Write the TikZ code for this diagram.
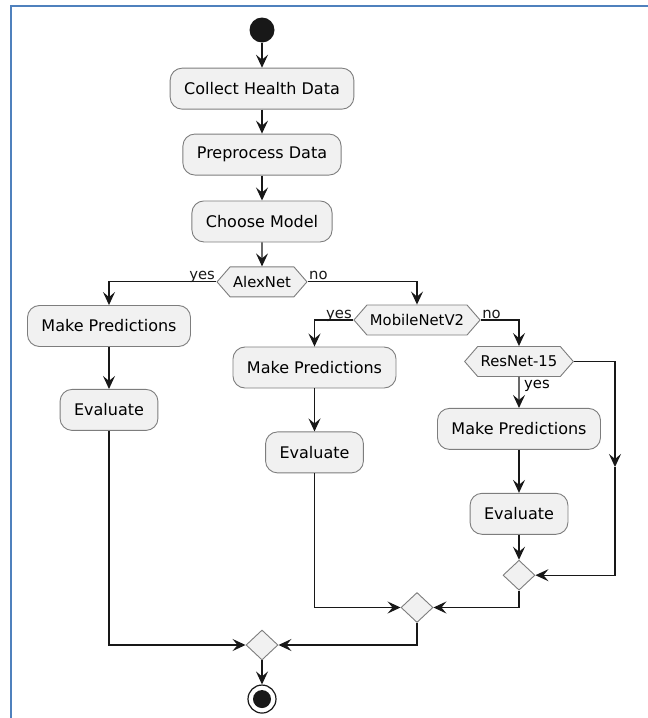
\documentclass[tikz,border=0pt]{standalone}
\usepackage{fontspec}
\setmainfont{DejaVu Sans}
\usetikzlibrary{arrows.meta, positioning, shapes.geometric, shapes.symbols}
\definecolor{umlline}{RGB}{24,24,24}
\definecolor{umlfill}{RGB}{241,241,241}
\definecolor{umledge}{RGB}{125,125,125}
\definecolor{frameblue}{RGB}{79,129,189}

\begin{document}
\begin{tikzpicture}[
        x=1pt, y=-1pt,
        font=\fontsize{16}{19}\selectfont,
        act/.style={draw=umledge, fill=umlfill, rounded corners=12pt, line width=0.9pt, minimum height=41pt, inner xsep=14pt},
        choice/.style={signal, signal to=west and east, signal pointer angle=98, draw=umledge, fill=umlfill, line width=0.9pt, minimum height=30pt, inner xsep=3pt, inner ysep=0pt, font=\fontsize{14.8}{17}\selectfont},
        merge/.style={diamond, draw=umledge, fill=umlfill, line width=0.9pt, minimum width=32pt, minimum height=30pt, inner sep=0pt},
        lbl/.style={font=\fontsize{14.8}{17}\selectfont, inner sep=1pt},
        ar/.style={-{Stealth[length=13pt, width=12pt, inset=5pt]}, line width=1.2pt, umlline}
    ]
        \useasboundingbox (0,0) rectangle (648,718);
        \draw[frameblue, line width=2pt] (11,718) -- (11,5.5) -- (648,5.5);

        \node[circle, fill=umlline, minimum size=25pt, inner sep=0pt] (start) at (262,30) {};
        \node[act, below=25pt of start]   (collect) {Collect Health Data};
        \node[act, below=24pt of collect] (prep)    {Preprocess Data};
        \node[act, below=25pt of prep]    (choose)  {Choose Model};
        \node[choice, below=24pt of choose] (alex)  {AlexNet};

        % AlexNet branch
        \node[act] (predA) at (109,326)       {Make Predictions};
        \node[act, below=42pt of predA] (evalA) {Evaluate};

        % MobileNetV2 branch
        \node[choice] (mobile) at (417,320)   {MobileNetV2};
        \node[act] (predB) at (314.5,367.5)   {Make Predictions};
        \node[act, below=43pt of predB] (evalB) {Evaluate};

        % ResNet-15 branch
        \node[choice] (resnet) at (519,361.5) {ResNet-15};
        \node[act, below=31pt of resnet] (predC) {Make Predictions};
        \node[act, below=43pt of predC]  (evalC) {Evaluate};
        \node[merge, below=25pt of evalC] (mergeC) {};
        \coordinate (skip) at (615,467);

        \node[merge] (mergeB) at (417,607.5) {};
        \node[merge] (mergeA) at (262,645) {};
        \node[circle, draw=umlline, fill=white, line width=1.2pt, minimum size=28pt, inner sep=0pt, below=24pt of mergeA] (stop) {};
        \fill[umlline] (stop.center) circle (9pt);

        \foreach \a/\b in {start/collect, collect/prep, prep/choose, choose/alex,
                           predA/evalA, predB/evalB, resnet/predC, predC/evalC, evalC/mergeC, mergeA/stop}{\draw[ar] (\a) -- (\b);}

        \draw[ar] (alex.west) -| (predA.north) node[lbl, pos=0, anchor=base east, yshift=2pt] {yes};
        \draw[ar] (alex.east) -| (mobile.north) node[lbl, pos=0, anchor=base west, yshift=2pt] {no};
        \draw[ar] (mobile.west) -| (predB.north) node[lbl, pos=0, anchor=base east, yshift=2pt] {yes};
        \draw[ar] (mobile.east) -| (resnet.north) node[lbl, pos=0, anchor=base west, yshift=2pt] {no};
        \node[lbl, anchor=north west, xshift=4pt, yshift=-2pt] (yesC) at (resnet.south) {yes};

        \draw[ar] (resnet.east) -| (skip);
        \draw[ar] (skip) |- (mergeC.east);
        \draw[ar] (mergeC.south) |- (mergeB.east);
        \draw[ar] (evalB.south) |- (mergeB.west);
        \draw[ar] (mergeB.south) |- (mergeA.east);
        \draw[ar] (evalA.south) |- (mergeA.west);
    \end{tikzpicture}
\end{document}
